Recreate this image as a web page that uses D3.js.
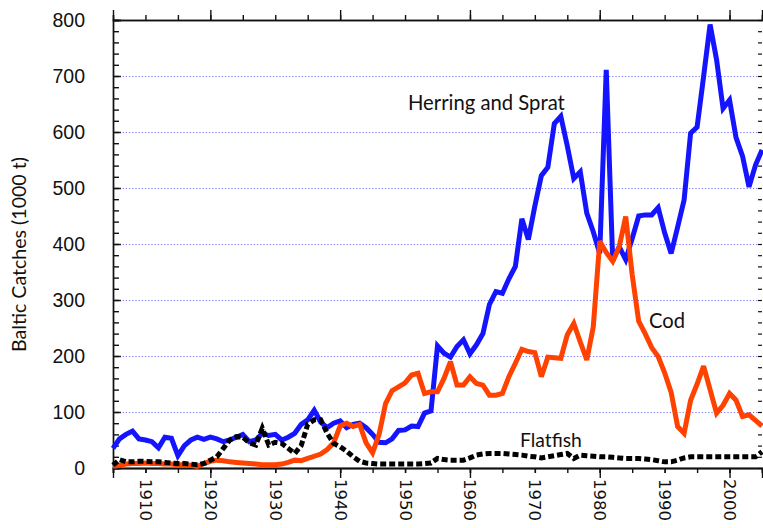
<!DOCTYPE html>
<html>
<head>
<meta charset="utf-8">
<script src="https://cdn.jsdelivr.net/npm/d3@7"></script>
<style>
  html, body { margin: 0; padding: 0; background: #fff; }
  svg { display: block; }
</style>
</head>
<body>
<svg id="chart" width="763" height="528"></svg>
<script>
// ---------------- DATA ----------------
const years = [1905,1906,1907,1908,1909,1910,1911,1912,1913,1914,1915,1916,1917,1918,1919,
  1920,1921,1922,1923,1924,1925,1926,1927,1928,1929,1930,1931,1932,1933,1934,1935,1936,1937,1938,1939,
  1940,1941,1942,1943,1944,1945,1946,1947,1948,1949,1950,1951,1952,1953,1954,1955,1956,1957,1958,1959,
  1960,1961,1962,1963,1964,1965,1966,1967,1968,1969,1970,1971,1972,1973,1974,1975,1976,1977,1978,1979,
  1980,1981,1982,1983,1984,1985,1986,1987,1988,1989,1990,1991,1992,1993,1994,1995,1996,1997,1998,1999,
  2000,2001,2002,2003,2004,2005];

const herringSprat = [35,52,60,66,52,50,47,36,55,53,22,40,50,55,51,
  55,52,47,50,55,60,47,50,62,58,60,50,55,62,78,86,103,82,72,80,
  84,72,78,80,72,60,46,45,52,67,68,75,74,98,102,218,205,198,217,229,
  204,220,240,292,315,312,338,360,445,408,468,522,537,615,628,575,517,529,455,422,
  383,711,370,395,372,410,450,452,452,465,420,383,430,479,598,609,699,792,729,642,
  657,590,557,502,541,568];

const cod = [3,5,7,8,8,9,8,8,7,7,6,6,5,3,8,
  12,14,13,11,10,9,8,7,6,6,6,7,10,14,13,17,21,25,33,45,
  75,80,74,78,45,27,60,115,138,145,152,166,169,133,136,136,160,190,148,148,
  163,151,148,130,130,133,163,187,212,208,206,163,198,197,196,238,258,225,193,252,
  405,385,369,395,449,345,262,240,215,199,170,135,74,62,121,150,182,140,98,112,
  133,121,92,95,85,75];

const flatfish = [5,15,11,11,12,12,11,11,10,9,8,8,7,6,8,
  14,20,35,50,56,55,45,41,71,41,46,44,35,26,40,78,86,86,62,44,
  38,30,20,12,9,8,7,7,7,7,7,7,7,8,9,17,15,14,14,14,
  18,23,25,26,26,26,25,24,23,21,20,18,20,22,24,26,17,23,22,21,
  20,20,19,18,17,17,17,16,15,13,11,11,14,18,20,20,20,20,20,20,
  20,20,20,20,20,29];

const yTickLabels = [0,100,200,300,400,500,600,700,800];
const xTickLabels = [1910,1920,1930,1940,1950,1960,1970,1980,1990,2000];
const seriesNames = ["Herring and Sprat","Cod","Flatfish"];
const yTitle = "Baltic Catches (1000 t)";

// ---------------- LAYOUT ----------------
const mLeft = 113, mRight = 762, mTop = 20, mBottom = 468;
const svg = d3.select("#chart");

const x = d3.scaleLinear().domain([1905, 2005]).range([mLeft, mRight]);
const y = d3.scaleLinear().domain([0, 800]).range([mBottom, mTop]);

// gridlines
svg.append("g").selectAll("line")
  .data(yTickLabels.filter(v => v < 800))
  .join("line")
  .attr("x1", mLeft).attr("x2", mRight)
  .attr("y1", d => y(d) + 0.5).attr("y2", d => y(d) + 0.5)
  .attr("stroke", "#7070ff").attr("stroke-width", 1)
  .attr("stroke-dasharray", "1.2,2");

// ---------------- AXES ----------------
const axisColor = "#111";
function styleAxis(g) {
  g.select(".domain").attr("stroke", axisColor).attr("stroke-width", 1.4);
  g.selectAll(".tick line").attr("stroke", axisColor).attr("stroke-width", 1.4);
}
const minorY = d3.range(0, 801, 20);
svg.append("g").attr("transform", `translate(${mLeft},0)`)
  .call(d3.axisLeft(y).tickValues(minorY).tickSize(-6).tickFormat(""))
  .call(styleAxis);
const gLeft = svg.append("g").attr("transform", `translate(${mLeft},0)`)
  .call(d3.axisLeft(y).tickValues(yTickLabels).tickSize(-8).tickPadding(28).tickFormat(d3.format("d")))
  .call(styleAxis);
gLeft.selectAll("text").attr("font-family", "Liberation Sans, Arial, sans-serif")
  .attr("font-size", 19.5).attr("fill", "#111");

const gRight = svg.append("g").attr("transform", `translate(${mRight},0)`)
  .call(d3.axisRight(y).tickValues(minorY).tickSize(-4).tickFormat(""));
gRight.select(".domain").remove();
gRight.selectAll(".tick line").attr("stroke", axisColor).attr("stroke-width", 1.2);

const minorX = d3.range(1905, 2006, 5);
const majorX = [1920, 1940, 1960, 1980, 2000];
svg.append("g").attr("transform", `translate(0,${mBottom})`)
  .call(d3.axisBottom(x).tickValues(minorX).tickSize(5).tickFormat(""))
  .call(styleAxis);
svg.append("g").attr("transform", `translate(0,${mBottom})`)
  .call(d3.axisBottom(x).tickValues(majorX).tickSize(10).tickFormat(""))
  .call(styleAxis);
const gBottomLabels = svg.append("g").attr("transform", `translate(0,${mBottom})`)
  .call(d3.axisBottom(x).tickValues(xTickLabels).tickSize(5).tickFormat(d3.format("d")))
  .call(styleAxis);
gBottomLabels.selectAll("text")
  .attr("font-family", "DejaVu Sans, Verdana, sans-serif")
  .attr("font-size", 16.5).attr("fill", "#111")
  .attr("transform", "rotate(90)")
  .attr("text-anchor", "start")
  .attr("dy", "0.36em")
  .attr("x", 11).attr("y", 0);

svg.append("g").attr("transform", `translate(0,${mTop})`)
  .call(d3.axisTop(x).tickValues(minorX).tickSize(5).tickFormat(""))
  .call(styleAxis);
svg.append("g").attr("transform", `translate(0,${mTop})`)
  .call(d3.axisTop(x).tickValues(majorX).tickSize(10).tickFormat(""))
  .call(styleAxis);

// fit a text element to a target width
function fitText(t, base, w) {
  const len = t.node().getComputedTextLength();
  t.attr("font-size", base * w / len);
}
const labelFont = "Lato, Open Sans, sans-serif";

const title = svg.append("text")
  .attr("transform", `translate(26,254.5) rotate(-90)`)
  .attr("text-anchor", "middle")
  .attr("font-family", labelFont)
  .attr("font-size", 18).attr("fill", "#111")
  .text(yTitle);
fitText(title, 18, 195);

// ---------------- LINES ----------------
const mk = vals => years.map((yr, i) => ({ yr, v: vals[i] }));
const line = d3.line().x(d => x(d.yr)).y(d => y(d.v)).curve(d3.curveLinear);
const plot = svg.append("g");
plot.append("path").datum(mk(herringSprat)).attr("d", line)
  .attr("fill", "none").attr("stroke", "#1414ff").attr("stroke-width", 5)
  .attr("stroke-linejoin", "miter").attr("stroke-miterlimit", 3);
plot.append("path").datum(mk(cod)).attr("d", line)
  .attr("fill", "none").attr("stroke", "#ff4200").attr("stroke-width", 5)
  .attr("stroke-linejoin", "miter").attr("stroke-miterlimit", 3);
plot.append("path").datum(mk(flatfish)).attr("d", line)
  .attr("fill", "none").attr("stroke", "#000").attr("stroke-width", 5)
  .attr("stroke-dasharray", "6,3");

// ---------------- LABELS ----------------
const labelPos = [
  { name: seriesNames[0], yr: 1950.45, v: 640, w: 157 },
  { name: seriesNames[1], yr: 1987.6, v: 250, w: 36 },
  { name: seriesNames[2], yr: 1967.7, v: 38, w: 62 }
];
labelPos.forEach(l => {
  const t = svg.append("text")
    .attr("x", x(l.yr)).attr("y", y(l.v))
    .attr("font-family", labelFont).attr("font-size", 19).attr("fill", "#111")
    .text(l.name);
  fitText(t, 19, l.w);
});
</script>
</body>
</html>
